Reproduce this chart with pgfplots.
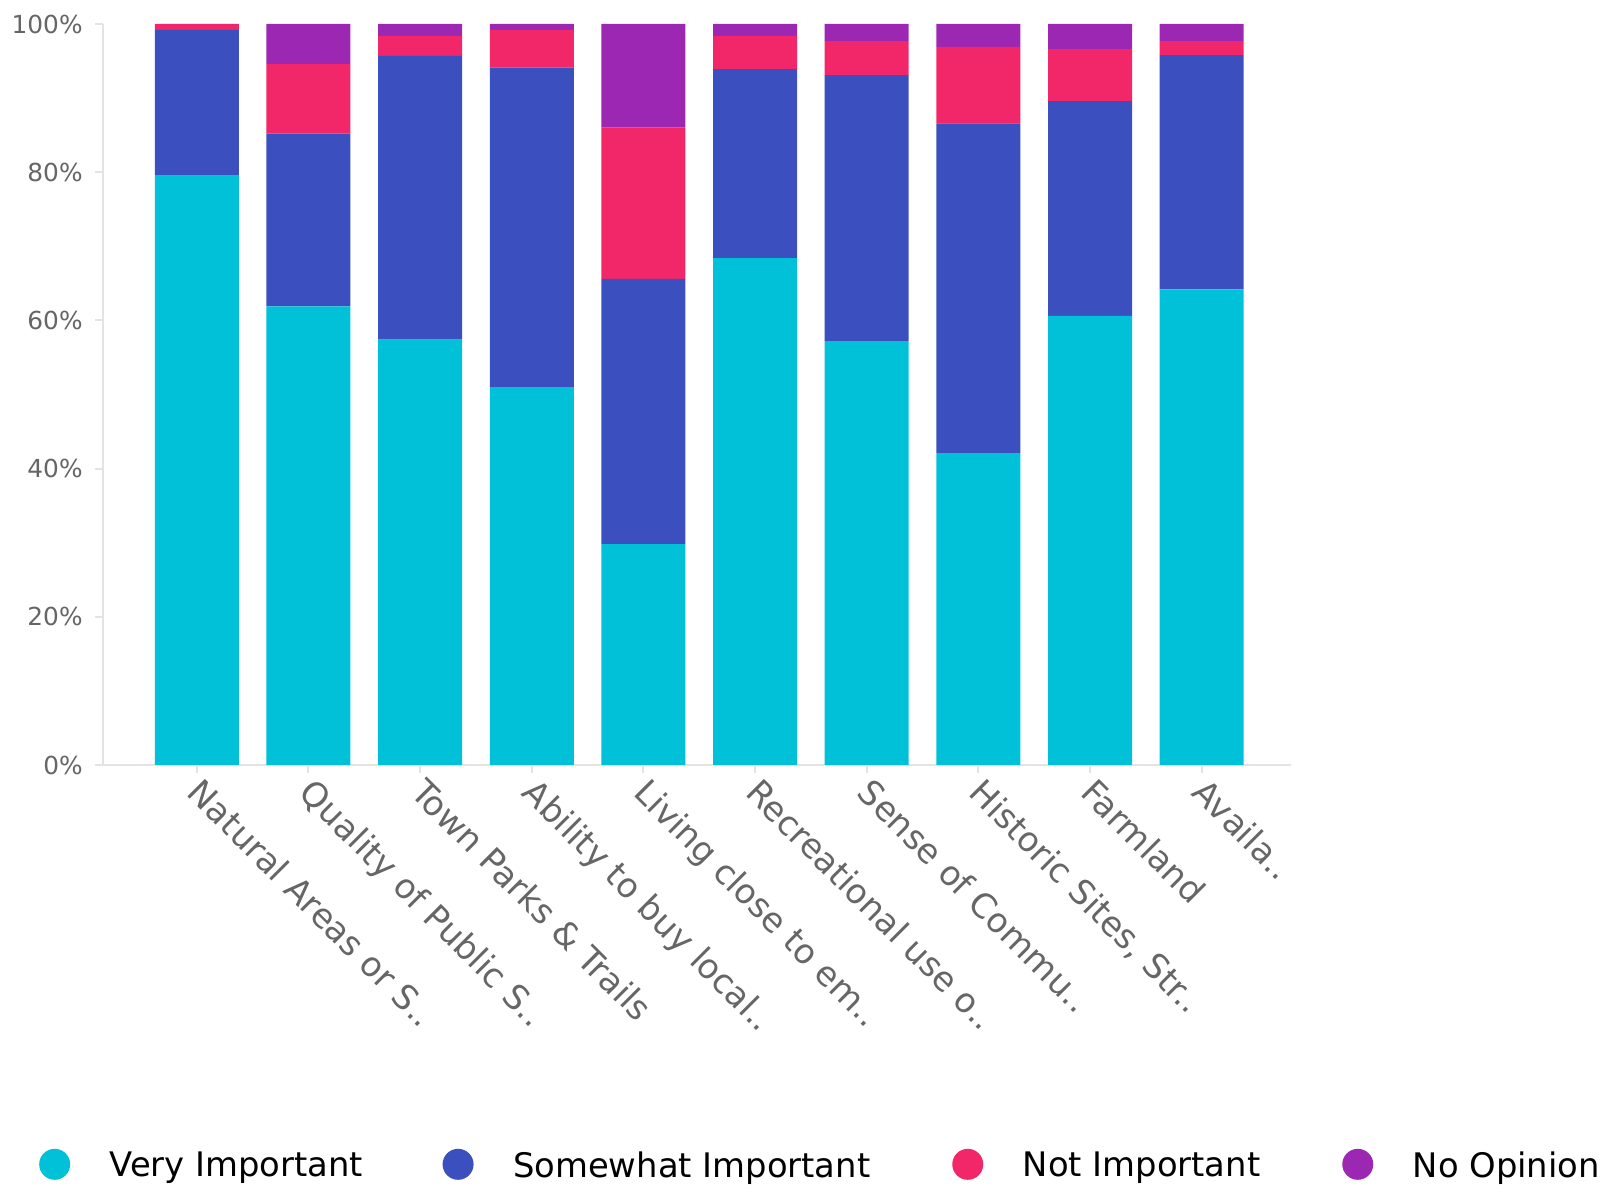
\documentclass[border=0pt]{standalone}
\usepackage{pgfplots}
\pgfplotsset{compat=1.18}
\usepackage{pgfplotstable}
\usepackage{fontspec}
\setmainfont{DejaVu Sans}
\definecolor{cVI}{HTML}{00C1D8}
\definecolor{cSI}{HTML}{3B50BE}
\definecolor{cNI}{HTML}{F22769}
\definecolor{cNO}{HTML}{9C27B3}
\definecolor{axgrey}{HTML}{E3E3E3}
\definecolor{txtgrey}{HTML}{666666}

\pgfplotstableread{
x VI SI NI NO
0 79.6 19.6 0.8 0.0
1 61.9 23.3 9.4 5.4
2 57.4 38.3 2.7 1.6
3 51.0 43.1 5.1 0.8
4 29.8 35.8 20.4 14.0
5 68.4 25.5 4.5 1.6
6 57.2 35.9 4.6 2.3
7 42.1 44.5 10.3 3.1
8 60.6 29.0 7.0 3.4
9 64.2 31.6 1.9 2.3
}\data

\begin{document}
\begin{tikzpicture}
\begin{axis}[
  scale only axis, width=594pt, height=370.5pt,
  xmin=-0.84, xmax=9.8, ymin=0, ymax=100,
  ybar stacked, bar width=42pt,
  axis x line*=bottom, axis y line*=left,
  axis line style={axgrey, line width=1pt},
  tick style={axgrey, line width=1pt},
  tick align=outside, major tick length=4pt,
  /pgf/number format/assume math mode=true,
  xtick={0,...,9},
  xticklabels={Natural Areas or S..,Quality of Public S..,Town Parks \& Trails,Ability to buy local..,Living close to em..,Recreational use o..,Sense of Commu..,{Historic Sites, Str..},Farmland,Availa..},
  xticklabel style={rotate=-45, anchor=north west, inner sep=0pt, font=\fontsize{17}{20}\selectfont, text=txtgrey, xshift=3.7pt, yshift=1.5pt},
  ytick={0,20,...,100},
  yticklabel={\pgfmathprintnumber{\tick}\%},
  yticklabel style={font=\fontsize{12.4}{15}\selectfont, text=txtgrey, inner sep=0pt, xshift=-6pt},
  legend columns=4,
  legend style={draw=none, fill=none, at={(axis description cs:-0.0591,-0.5392)}, anchor=west,
    font=\fontsize{16.9}{20}\selectfont, nodes={inner sep=0pt},
    /tikz/every odd column/.append style={column sep=19.75pt},
    /tikz/column 2/.style={column sep=39.7pt},
    /tikz/column 4/.style={column sep=41pt},
    /tikz/column 6/.style={column sep=41pt}},
  legend image code/.code={\fill[#1] (7.75pt,0.8pt) circle[radius=7.75pt];},
]
\addplot[fill=cVI, draw=none] table[x=x, y=VI] {\data};
\addplot[fill=cSI, draw=none] table[x=x, y=SI] {\data};
\addplot[fill=cNI, draw=none] table[x=x, y=NI] {\data};
\addplot[fill=cNO, draw=none] table[x=x, y=NO] {\data};
\legend{Very Important, Somewhat Important, Not Important, No Opinion}
\end{axis}
\pgfresetboundingbox
\path[use as bounding box] ([shift={(-51.5pt,-213pt)}]current axis.south west) rectangle ([shift={(159.5pt,12pt)}]current axis.north east);
\end{tikzpicture}
\end{document}
